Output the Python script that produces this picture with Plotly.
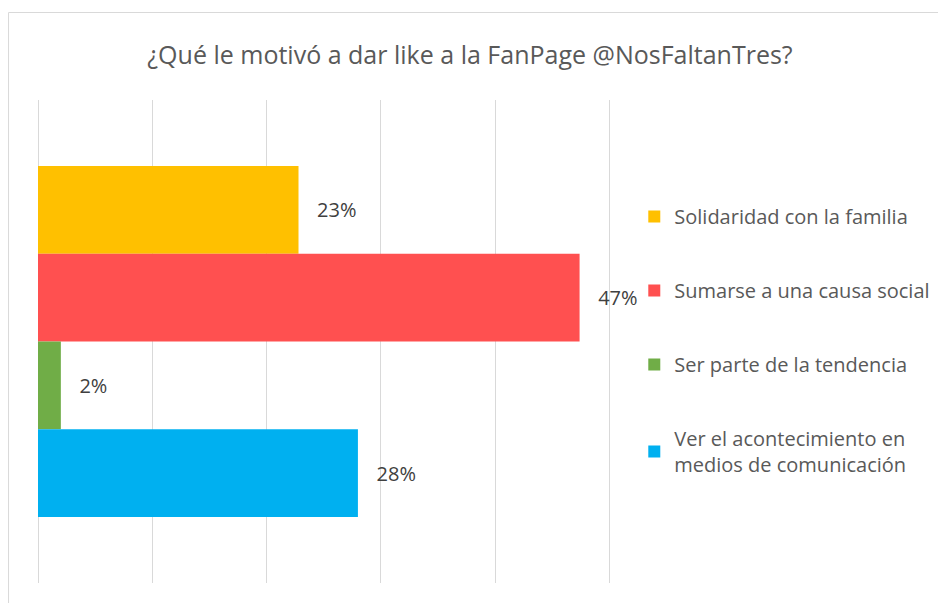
import plotly.graph_objects as go

categories = ["Solidaridad con la familia", "Sumarse a una causa social",
              "Ser parte de la tendencia", "Ver el acontecimiento en<br>medios de comunicación"]
values = [0.228, 0.474, 0.02, 0.28]
colors = ["#FFC000", "#FF5050", "#70AD47", "#00B0F0"]
question = ["P"]

FONT = "Open Sans"
OFF = 8  # page body margin
XMAX = 0.505
W, H = 946 - OFF, 603 - OFF
L, T = 38 - OFF, 100 - OFF
pw = (610 - 38) * XMAX / 0.5
R = W - L - pw
B = H - (583 - OFF)
ph = H - T - B

fig = go.Figure()
for i, (name, v, c) in enumerate(zip(categories, values, colors)):
    fig.add_trace(go.Bar(
        x=[v], y=question, orientation="h", name=name,
        marker=dict(color=c, line=dict(width=0)),
        texttemplate="\u00a0\u00a0\u00a0%{x:.0%}", textposition="outside",
        textfont=dict(size=20, color="#404040", family=FONT),
        cliponaxis=False, legendgroup=f"g{i}", hoverinfo="skip",
    ))

def px_x(p):
    return (p - OFF - L) / pw

def px_y(p):
    return (H - B - (p - OFF)) / ph

fig.update_layout(
    width=W, height=H,
    margin=dict(l=L, r=R, t=T, b=B),
    paper_bgcolor="white", plot_bgcolor="white",
    barmode="group", bargap=0.273, bargroupgap=0,
    title=dict(text="¿Qué le motivó a dar like a la FanPage @NosFaltanTres?",
               x=(470 - OFF) / W, xanchor="center", y=1 - (55 - OFF) / H, yanchor="middle",
               font=dict(size=25, color="#595959", family=FONT)),
    xaxis=dict(range=[0, XMAX], dtick=0.1, showgrid=True, gridcolor="#D9D9D9",
               gridwidth=1, zeroline=True, zerolinecolor="#D9D9D9", zerolinewidth=1,
               showticklabels=False, showline=False, ticks=""),
    yaxis=dict(autorange="reversed", showticklabels=False, showgrid=False,
               zeroline=False, showline=False, ticks=""),
    showlegend=True,
    legend=dict(x=px_x(634), xanchor="left", y=px_y(197), yanchor="top",
                traceorder="grouped", tracegroupgap=45,
                font=dict(size=20, color="#595959", family=FONT),
                bgcolor="rgba(0,0,0,0)", borderwidth=0),
    shapes=[dict(type="rect", xref="paper", yref="paper",
                 x0=px_x(8.5), x1=px_x(1200), y0=px_y(800), y1=px_y(12.5),
                 line=dict(color="#D9D9D9", width=1), fillcolor="rgba(0,0,0,0)",
                 layer="below")],
)

fig.write_html("out.html")
